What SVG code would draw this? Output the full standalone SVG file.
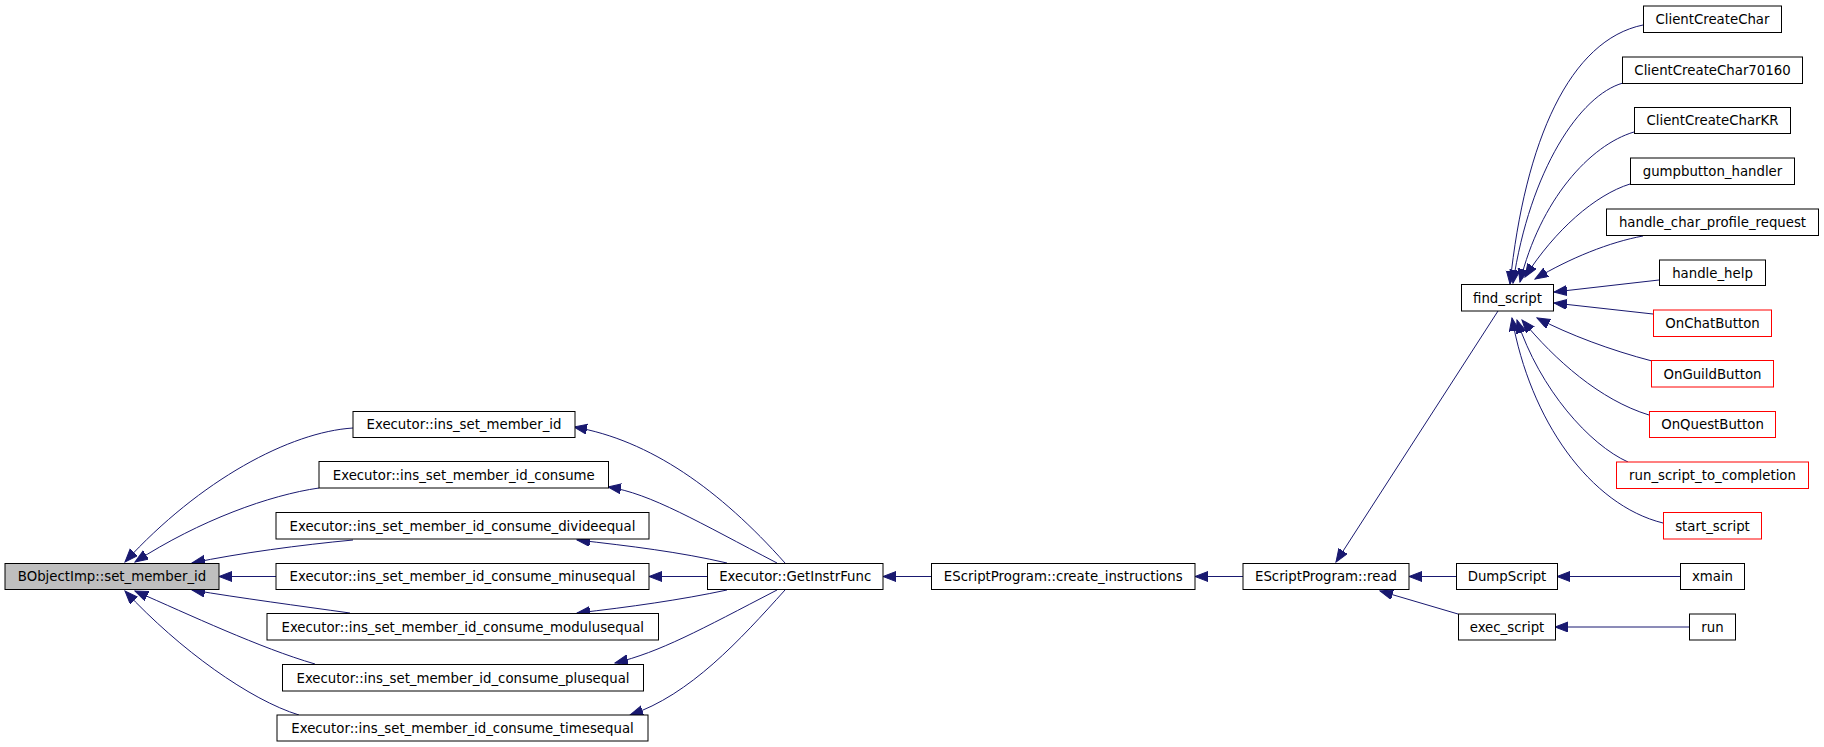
<svg xmlns="http://www.w3.org/2000/svg" width="1824" height="747" viewBox="0 0 1824 747">
<style>
.n rect{fill:#ffffff;stroke:#000000;stroke-width:1}
.n.hl rect{fill:#bfbfbf}
.n.red rect{stroke:#ff0000}
.n text{font-family:"DejaVu Sans",sans-serif;font-size:13.3px;fill:#000000;text-anchor:middle}
#edges path{fill:none;stroke:#191970;stroke-width:1;marker-end:url(#ah)}
</style>
<defs>
<marker id="ah" markerWidth="14" markerHeight="11" refX="13" refY="5" orient="auto" markerUnits="userSpaceOnUse">
<path d="M0,0 L13,5 L0,10 z" fill="#191970" stroke="#191970" stroke-width="1"/>
</marker>
</defs>
<rect width="1824" height="747" fill="#ffffff"/>
<g id="edges">
<path d="M353,428 C290,432 200,480 125,562"/>
<path d="M319,488 C270,495 200,520 135,562"/>
<path d="M353,540 C300,545 240,553 192,563"/>
<path d="M276,576.5 L219,576.5"/>
<path d="M350,613 C300,606 240,598 192,590"/>
<path d="M315,664 C260,648 190,615 135,591"/>
<path d="M299,715 C250,700 180,650 125,591"/>
<path d="M785,563 C720,490 650,440 574,427"/>
<path d="M777,563 C700,523 650,493 608,487"/>
<path d="M727,563 C680,552 630,546 577,540"/>
<path d="M707,576.5 L649,576.5"/>
<path d="M727,590 C680,600 630,607 577,613"/>
<path d="M777,590 C700,630 660,652 615,663"/>
<path d="M785,590 C740,640 690,695 630,715"/>
<path d="M931,576.5 L883,576.5"/>
<path d="M1243,576.5 L1195,576.5"/>
<path d="M1498,311 L1336,562"/>
<path d="M1456,576.5 L1409,576.5"/>
<path d="M1458,614 L1380,591"/>
<path d="M1680,576.5 L1557,576.5"/>
<path d="M1689,627 L1555,627"/>
<path d="M1643,25 C1570,40 1525,140 1510,284"/>
<path d="M1623,83 C1580,95 1530,170 1513,283"/>
<path d="M1634,132 C1590,145 1540,200 1520,282"/>
<path d="M1630,184 C1595,195 1555,230 1525,277"/>
<path d="M1643,236 C1610,242 1570,258 1535,279"/>
<path d="M1659,280 L1554,292"/>
<path d="M1653,314 L1554,303"/>
<path d="M1652,361 C1610,350 1570,335 1537,318"/>
<path d="M1649,415 C1600,400 1555,360 1522,320"/>
<path d="M1628,462 C1590,445 1540,390 1517,320"/>
<path d="M1663,523 C1590,505 1530,420 1512,318"/>
</g>
<g id="n_bobjectimp" class="n hl"><rect x="5" y="563.5" width="214" height="26"/><text x="112" y="581">BObjectImp::set_member_id</text></g>
<g id="n_ins" class="n"><rect x="353" y="411.5" width="222" height="26"/><text x="464" y="429">Executor::ins_set_member_id</text></g>
<g id="n_consume" class="n"><rect x="319" y="461.5" width="289.5" height="26.5"/><text x="463.75" y="479.5">Executor::ins_set_member_id_consume</text></g>
<g id="n_divide" class="n"><rect x="276" y="512.5" width="373" height="26.5"/><text x="462.5" y="530.5">Executor::ins_set_member_id_consume_divideequal</text></g>
<g id="n_minus" class="n"><rect x="276" y="563.5" width="373" height="26"/><text x="462.5" y="581">Executor::ins_set_member_id_consume_minusequal</text></g>
<g id="n_modulus" class="n"><rect x="267" y="613.5" width="391.5" height="26.5"/><text x="462.75" y="631.5">Executor::ins_set_member_id_consume_modulusequal</text></g>
<g id="n_plus" class="n"><rect x="282.5" y="664.5" width="361" height="26.5"/><text x="463" y="682.5">Executor::ins_set_member_id_consume_plusequal</text></g>
<g id="n_times" class="n"><rect x="277" y="715" width="371" height="26"/><text x="462.5" y="732.5">Executor::ins_set_member_id_consume_timesequal</text></g>
<g id="n_getinstr" class="n"><rect x="707.5" y="563.5" width="175.5" height="26"/><text x="795.25" y="581">Executor::GetInstrFunc</text></g>
<g id="n_create" class="n"><rect x="931.5" y="563.5" width="263.5" height="26"/><text x="1063.25" y="581">EScriptProgram::create_instructions</text></g>
<g id="n_read" class="n"><rect x="1243" y="563.5" width="166" height="26"/><text x="1326" y="581">EScriptProgram::read</text></g>
<g id="n_find" class="n"><rect x="1461.5" y="284.5" width="92" height="26.5"/><text x="1507.5" y="302.5">find_script</text></g>
<g id="n_dump" class="n"><rect x="1456.5" y="563.5" width="101" height="26"/><text x="1507" y="581">DumpScript</text></g>
<g id="n_exec" class="n"><rect x="1458.5" y="614" width="97" height="26"/><text x="1507" y="631.5">exec_script</text></g>
<g id="n_xmain" class="n"><rect x="1680.5" y="563.5" width="64" height="26"/><text x="1712.5" y="581">xmain</text></g>
<g id="n_run" class="n"><rect x="1689.5" y="614" width="46" height="26"/><text x="1712.5" y="631.5">run</text></g>
<g id="n_ccc" class="n"><rect x="1643.5" y="6" width="138" height="26.5"/><text x="1712.5" y="24">ClientCreateChar</text></g>
<g id="n_ccc70160" class="n"><rect x="1622.5" y="57" width="180" height="26.5"/><text x="1712.5" y="75">ClientCreateChar70160</text></g>
<g id="n_ccckr" class="n"><rect x="1634.5" y="107.5" width="156" height="26"/><text x="1712.5" y="125">ClientCreateCharKR</text></g>
<g id="n_gump" class="n"><rect x="1630.5" y="158" width="164" height="26.5"/><text x="1712.5" y="176">gumpbutton_handler</text></g>
<g id="n_hcpr" class="n"><rect x="1606.5" y="209" width="212" height="26.5"/><text x="1712.5" y="227">handle_char_profile_request</text></g>
<g id="n_help" class="n"><rect x="1659.5" y="260" width="106" height="25.5"/><text x="1712.5" y="277.5">handle_help</text></g>
<g id="n_chat" class="n red"><rect x="1653.5" y="310" width="118" height="26.5"/><text x="1712.5" y="328">OnChatButton</text></g>
<g id="n_guild" class="n red"><rect x="1651.5" y="360.5" width="122" height="26.5"/><text x="1712.5" y="378.5">OnGuildButton</text></g>
<g id="n_quest" class="n red"><rect x="1649.5" y="411.5" width="126" height="26"/><text x="1712.5" y="429">OnQuestButton</text></g>
<g id="n_rstc" class="n red"><rect x="1616.5" y="462" width="192" height="26.5"/><text x="1712.5" y="480">run_script_to_completion</text></g>
<g id="n_start" class="n red"><rect x="1663.5" y="512.5" width="98" height="26.5"/><text x="1712.5" y="530.5">start_script</text></g>
</svg>
